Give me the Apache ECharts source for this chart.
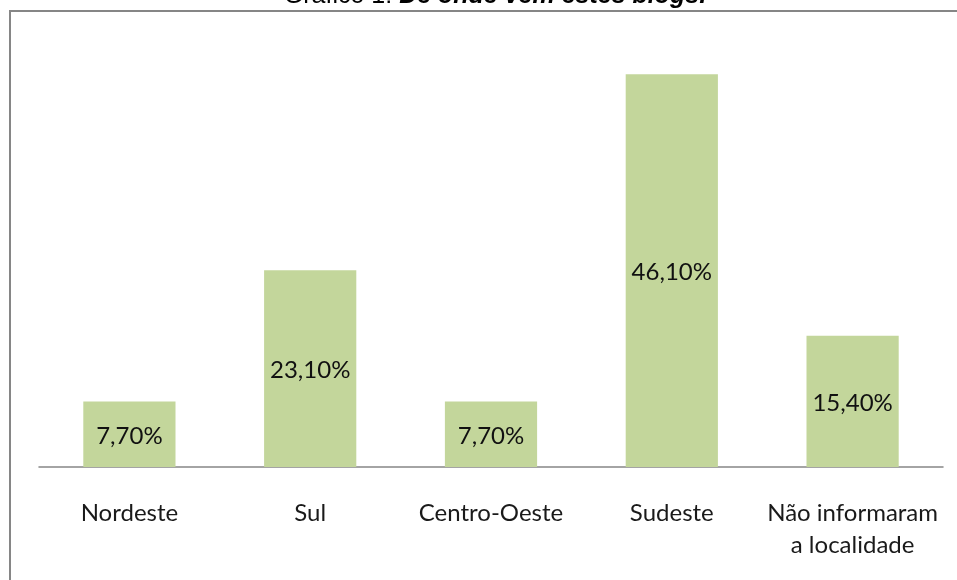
<!DOCTYPE html>
<html>
<head>
<meta charset="utf-8">
<script src="https://cdn.jsdelivr.net/npm/echarts@6/dist/echarts.min.js"></script>
<style>
  html, body { margin: 0; padding: 0; background: #fff; }
  #chart { width: 957px; height: 580px; }
</style>
</head>
<body>
<div id="chart"></div>
<script>
// regiões e percentuais
var categories = ['Nordeste', 'Sul', 'Centro-Oeste', 'Sudeste', 'Não informaram\na localidade'];
var values = [7.7, 23.1, 7.7, 46.1, 15.4];

var myChart = echarts.init(document.getElementById('chart'));

var option = {
    animation: false,
    title: {
        text: '{a|Gráfico 1: }{b|De onde vem estes blogs.}',
        left: 490,
        textAlign: 'center',
        top: -21,
        textStyle: {
            rich: {
                a: { fontFamily: 'Liberation Sans', fontSize: 25, color: '#000', fontWeight: 'normal' },
                b: { fontFamily: 'Liberation Sans', fontSize: 25, color: '#000', fontStyle: 'italic', fontWeight: 'bold' }
            }
        }
    },
    // moldura do gráfico
    graphic: [{
        type: 'rect',
        shape: { x: 10, y: 11, width: 1000, height: 700 },
        style: { fill: 'none', stroke: '#868686', lineWidth: 2 },
        silent: true
    }],
    grid: { left: 39, right: 14, top: 41, bottom: 113 },
    xAxis: {
        type: 'category',
        data: categories,
        axisTick: { show: false },
        axisLine: { lineStyle: { color: '#868686', width: 1.5 } },
        axisLabel: {
            fontFamily: 'Lato',
            fontSize: 24,
            color: '#1a1a1a',
            margin: 30,
            lineHeight: 32,
            interval: 0
        }
    },
    yAxis: {
        type: 'value',
        min: 0,
        max: 50,
        show: false
    },
    series: [{
        type: 'bar',
        data: values,
        barWidth: '51%',
        itemStyle: { color: '#c3d69b' },
        label: {
            show: true,
            position: 'inside',
            fontFamily: 'Lato',
            fontSize: 24,
            color: '#111',
            offset: [0, 2],
            formatter: function (p) {
                return p.value.toFixed(2).replace('.', ',') + '%';
            }
        }
    }]
};

myChart.setOption(option);
</script>
</body>
</html>
